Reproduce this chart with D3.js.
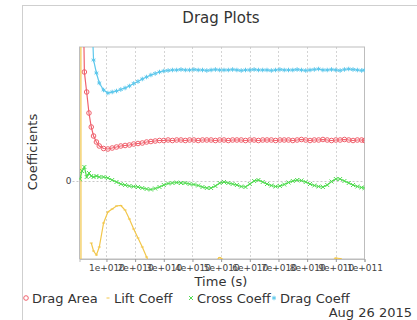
<!DOCTYPE html>
<html>
<head>
<meta charset="utf-8">
<script src="https://cdn.jsdelivr.net/npm/d3@7"></script>
<style>
  body { margin: 0; background: #fff; }
  svg { font-family: "DejaVu Sans", sans-serif; }
</style>
</head>
<body>
<div id="chart"></div>
<script>
// time in units of 1e9 s
const times = [0.7, 1.5, 2.3, 3.1, 3.9, 4.7, 5.5, 6.5, 7.5,
  9, 10.5, 12, 13.5, 15, 16.5, 18, 19.5, 21, 22.5, 24, 25.5, 27, 28.5,
  30, 31.5, 33, 34.5, 36, 37.5, 39, 40.5, 42, 43.5, 45, 46.5, 48, 49.5, 51, 52.5, 54, 55.5,
  57, 58.5, 60, 61.5, 63, 64.5, 66, 67.5, 69, 70.5, 72, 73.5, 75, 76.5, 78, 79.5,
  81, 82.5, 84, 85.5, 87, 88.5, 90, 91.5, 93, 94.5, 96, 97.5, 99, 100];

const dragArea = [4.0, 2.5, 1.09, 0.89, 0.68, 0.54, 0.45, 0.39, 0.35,
  0.325, 0.32, 0.33, 0.34, 0.35, 0.355, 0.36, 0.37, 0.375, 0.38, 0.39, 0.395, 0.40, 0.405,
  0.405, 0.41, 0.405, 0.41, 0.41, 0.405, 0.41, 0.41, 0.405, 0.41, 0.41, 0.41,
  0.405, 0.41, 0.41, 0.405, 0.41, 0.41, 0.41, 0.405, 0.41, 0.41, 0.405, 0.41,
  0.41, 0.41, 0.405, 0.41, 0.41, 0.41, 0.405, 0.41, 0.415, 0.41, 0.405, 0.41,
  0.41, 0.415, 0.41, 0.405, 0.41, 0.41, 0.415, 0.41, 0.405, 0.41, 0.41, 0.405];

const liftCoeff = [30, -30, null, null, null, -0.62, -0.70, -0.74, -0.66,
  -0.42, -0.31, -0.28, -0.25, -0.245, -0.29, -0.38, -0.48, -0.57, -0.66, -0.76, -0.86, -0.95, -1.03,
  -1.1, -1.15, -1.18, -1.2, -1.18, -1.14, -1.08, -1.02, -0.96, -0.91, -0.87, -0.84,
  -0.8, -0.765, -0.79, -0.84, -0.9, -0.97, -1.04, -1.1, -1.15, -1.18, -1.2, -1.19,
  -1.16, -1.12, -1.07, -1.02, -0.97, -0.93, -0.9, -0.88, -0.87, -0.88, -0.9, -0.93,
  -0.92, -0.88, -0.84, -0.8, -0.77, -0.775, -0.81, -0.86, -0.92, -0.98, -1.03, -1.06];

const crossCoeff = [0.02, 0.10, 0.14, 0.04, 0.08, 0.05, 0.04, 0.05, 0.04,
  0.04, 0.03, 0.01, -0.01, -0.03, -0.04, -0.05, -0.055, -0.06, -0.07, -0.08, -0.085, -0.075, -0.06,
  -0.04, -0.025, -0.02, -0.015, -0.02, -0.02, -0.03, -0.035, -0.045, -0.06, -0.07, -0.07,
  -0.05, -0.02, -0.01, -0.02, -0.03, -0.04, -0.055, -0.06, -0.03, 0.0, 0.01, -0.01,
  -0.03, -0.045, -0.055, -0.05, -0.035, -0.015, 0.0, 0.01, 0.005, -0.01, -0.03, -0.045,
  -0.055, -0.06, -0.04, -0.005, 0.02, 0.02, 0.0, -0.02, -0.04, -0.055, -0.065, -0.07];

const dragCoeff = [6, 5, 4, 3, 2.4, 1.8, 1.21, 1.08, 0.98,
  0.91, 0.88, 0.89, 0.90, 0.915, 0.93, 0.95, 0.975, 0.995, 1.02, 1.04, 1.06, 1.075, 1.09,
  1.10, 1.105, 1.11, 1.11, 1.115, 1.11, 1.11, 1.115, 1.11, 1.11, 1.105, 1.11,
  1.115, 1.11, 1.11, 1.11, 1.115, 1.11, 1.105, 1.11, 1.11, 1.115, 1.11, 1.11,
  1.11, 1.105, 1.11, 1.115, 1.11, 1.11, 1.11, 1.115, 1.11, 1.105, 1.11, 1.115,
  1.12, 1.11, 1.11, 1.115, 1.11, 1.105, 1.115, 1.12, 1.115, 1.11, 1.105, 1.11];

const xTicks = [10, 20, 30, 40, 50, 60, 70, 80, 90, 100];
const xTickLabels = ["1e+010", "2e+010", "3e+010", "4e+010", "5e+010",
  "6e+010", "7e+010", "8e+010", "9e+010", "1e+011"];
const yTicks = [0];

const seriesNames = ["Drag Area", "Lift Coeff", "Cross Coeff", "Drag Coeff"];
const seriesValues = [dragArea, liftCoeff, crossCoeff, dragCoeff];
const seriesColors = ["#f0606c", "#f2c64a", "#52dc52", "#5ec8ec"];
const seriesMarks = ["circle", "dash", "times", "asterisk"];

const W = 417, H = 320;
const plot = { left: 79.5, right: 364.5, top: 47, bottom: 259 };

const svg = d3.select("#chart").append("svg")
  .attr("width", W).attr("height", H);

// outer frame
svg.append("rect")
  .attr("x", 22.5).attr("y", 5.5)
  .attr("width", W).attr("height", H)
  .attr("fill", "none").attr("stroke", "#cfcfcf");

const x = d3.scaleLinear().domain([0.6, 100]).range([plot.left, plot.right]);
const y = d3.scaleLinear().domain([-0.78, 1.34]).range([plot.bottom, plot.top]);

// title
svg.append("text")
  .attr("x", 221).attr("y", 23)
  .attr("text-anchor", "middle")
  .attr("font-size", 15).attr("fill", "#333")
  .text("Drag Plots");

// grid
svg.append("g").selectAll("line")
  .data(xTicks.slice(0, -1))
  .join("line")
  .attr("x1", d => Math.round(x(d)) + 0.5).attr("x2", d => Math.round(x(d)) + 0.5)
  .attr("y1", plot.top).attr("y2", plot.bottom)
  .attr("stroke", "#d4d4d4").attr("stroke-dasharray", "2,2");

svg.append("g").selectAll("line")
  .data(yTicks)
  .join("line")
  .attr("x1", plot.left - 7).attr("x2", plot.right)
  .attr("y1", d => Math.round(y(d)) + 0.5).attr("y2", d => Math.round(y(d)) + 0.5)
  .attr("stroke", "#c8c8c8").attr("stroke-dasharray", "2,2");

// plot frame
svg.append("rect")
  .attr("x", plot.left).attr("y", plot.top)
  .attr("width", plot.right - plot.left).attr("height", plot.bottom - plot.top)
  .attr("fill", "none").attr("stroke", "#bdbdbd");

// x axis
const xAxis = svg.append("g")
  .attr("transform", `translate(0,${plot.bottom})`)
  .call(d3.axisBottom(x).tickValues(xTicks).tickSize(3).tickPadding(3)
    .tickFormat((d, i) => xTickLabels[i]));
xAxis.select(".domain").attr("stroke", "#bdbdbd");
xAxis.selectAll(".tick line").attr("stroke", "#999");
xAxis.selectAll("text").attr("font-size", 9).attr("fill", "#444")
  .attr("font-family", "DejaVu Sans");

// y axis (only zero labelled)
svg.append("g").selectAll("text")
  .data(yTicks)
  .join("text")
  .attr("x", plot.left - 8).attr("y", d => y(d) + 3)
  .attr("text-anchor", "end")
  .attr("font-size", 9).attr("fill", "#444")
  .text(d => d);

// axis titles
svg.append("text")
  .attr("x", 221).attr("y", 286)
  .attr("text-anchor", "middle")
  .attr("font-size", 13).attr("fill", "#333")
  .text("Time (s)");

svg.append("text")
  .attr("transform", "translate(37,152) rotate(-90)")
  .attr("text-anchor", "middle")
  .attr("font-size", 13).attr("fill", "#333")
  .text("Coefficients");

// series
svg.append("defs").append("clipPath").attr("id", "clip")
  .append("rect")
  .attr("x", plot.left).attr("y", plot.top)
  .attr("width", plot.right - plot.left).attr("height", plot.bottom - plot.top);

const area = svg.append("g").attr("clip-path", "url(#clip)");

function drawMark(g, kind, color) {
  if (kind === "circle") {
    g.append("circle").attr("r", 2.3)
      .attr("fill", "none").attr("stroke", color).attr("stroke-width", 1);
  } else if (kind === "dash") {
    g.append("line").attr("x1", -1.5).attr("x2", 1.5)
      .attr("stroke", color).attr("stroke-width", 1);
  } else if (kind === "times") {
    g.append("path").attr("d", d3.symbol(d3.symbolTimes, 12)())
      .attr("fill", "none").attr("stroke", color).attr("stroke-width", 1);
  } else {
    g.append("path").attr("d", d3.symbol(d3.symbolAsterisk, 14)())
      .attr("fill", "none").attr("stroke", color).attr("stroke-width", 1);
  }
}

seriesValues.forEach((vals, s) => {
  const pts = times.map((t, i) => ({ t, v: vals[i] }));
  const line = d3.line()
    .defined(d => d.v !== null)
    .x(d => x(d.t))
    .y(d => y(d.v));
  area.append("path")
    .datum(pts)
    .attr("d", line)
    .attr("fill", "none")
    .attr("stroke", seriesColors[s])
    .attr("stroke-width", 1.2);
  area.append("g").selectAll("g")
    .data(pts.filter(d => d.v !== null && Math.abs(d.v) < 5))
    .join("g")
    .attr("transform", d => `translate(${x(d.t)},${y(d.v)})`)
    .each(function () { drawMark(d3.select(this), seriesMarks[s], seriesColors[s]); });
});

// legend
const legendX = [26, 108, 191, 274];
const legend = svg.append("g").attr("transform", "translate(0,298)");
seriesNames.forEach((name, s) => {
  const mark = legend.append("g").attr("transform", `translate(${legendX[s]},0)`);
  drawMark(mark, seriesMarks[s], seriesColors[s]);
  legend.append("text")
    .attr("x", legendX[s] + 6).attr("y", 5)
    .attr("font-size", 13).attr("fill", "#333")
    .text(name);
});

// date stamp
svg.append("text")
  .attr("x", 412).attr("y", 317)
  .attr("text-anchor", "end")
  .attr("font-size", 13).attr("fill", "#333")
  .text("Aug 26 2015");
</script>
</body>
</html>
